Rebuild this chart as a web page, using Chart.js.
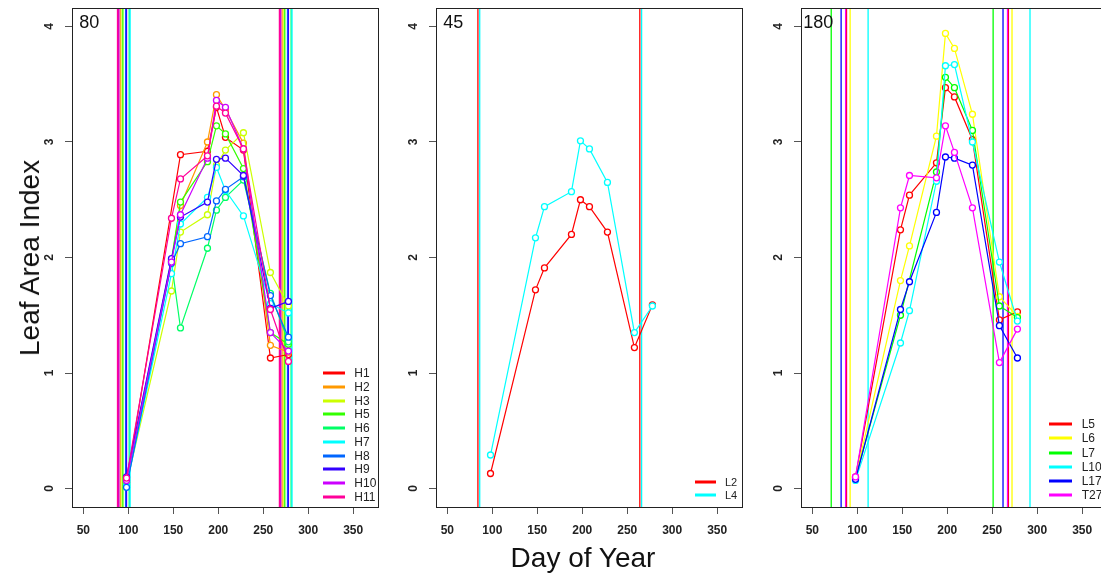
<!DOCTYPE html>
<html><head><meta charset="utf-8">
<script src="https://cdn.jsdelivr.net/npm/chart.js@4.4.1/dist/chart.umd.min.js"></script>
<style>
html,body{margin:0;padding:0;background:#fff;width:1101px;height:580px;overflow:hidden;font-family:"Liberation Sans",Arial,sans-serif;}
#wrap{position:relative;width:1101px;height:580px;overflow:hidden;}
canvas.cv{position:absolute;top:0;}
.plab{position:absolute;font-size:18px;color:#111;transform:translate(-50%,-50%);white-space:nowrap;}
.ytitle{position:absolute;left:30px;top:258px;transform:translate(-50%,-50%) rotate(-90deg);font-size:28px;white-space:nowrap;color:#111;}
.xtitle{position:absolute;left:583px;top:558px;transform:translate(-50%,-50%);font-size:28px;white-space:nowrap;color:#111;}
.lgline{position:absolute;height:3px;transform:translateY(-50%);}
.lgtxt{position:absolute;transform:translateY(-50%);color:#222;white-space:nowrap;}
</style>
</head><body>
<div id="wrap">
  <canvas id="c0" class="cv" width="372" height="580" style="left:12px"></canvas>
  <canvas id="c1" class="cv" width="372" height="580" style="left:376px"></canvas>
  <canvas id="c2" class="cv" width="372" height="580" style="left:741px"></canvas>
  <div class="ytitle">Leaf Area Index</div>
  <div class="xtitle">Day of Year</div>
</div>
<script>
// ---------- data ----------
const days = [98, 148, 158, 188, 198, 208, 228, 258, 278];
const xTicks = [50, 100, 150, 200, 250, 300, 350];
const yTicks = [0, 1, 2, 3, 4];
const panelLabels = ['80', '45', '180'];

// panel 1
const hNames = ['H1', 'H2', 'H3', 'H5', 'H6', 'H7', 'H8', 'H9', 'H10', 'H11'];
const hColors = ['#FF0000', '#FF9900', '#CCFF00', '#33FF00', '#00FF66', '#00FFFF', '#0066FF', '#3300FF', '#CC00FF', '#FF0099'];
const H1  = [0.05, null, 2.89, 2.92, 3.30, 3.04, 2.93, 1.13, 1.16];
const H2  = [0.06, 1.97, 2.45, 3.00, 3.41, 3.28, 2.99, 1.24, 1.18];
const H3  = [0.04, 1.71, 2.22, 2.37, 2.80, 2.93, 3.08, 1.87, 1.58];
const H5  = [0.08, 1.98, 2.48, 2.83, 3.14, 3.07, 2.77, 1.35, 1.25];
const H6  = [0.03, 1.96, 1.39, 2.08, 2.41, 2.52, 2.67, 1.69, 1.27];
const H7  = [0.02, 1.86, 2.29, 2.52, 2.78, 2.58, 2.36, 1.60, 1.52];
const H8  = [0.01, 1.95, 2.12, 2.18, 2.49, 2.59, 2.70, 1.67, 1.31];
const H9  = [0.10, 1.99, 2.35, 2.48, 2.85, 2.86, 2.71, 1.56, 1.62];
const H10 = [0.07, 1.96, 2.37, 2.86, 3.36, 3.30, 2.94, 1.35, 1.19];
const H11 = [0.09, 2.34, 2.68, 2.88, 3.31, 3.25, 2.94, 1.55, 1.10];
const hPlant   = [89, 91, 93, 94, 101, 102, 97, 98, 89.5, 88];
const hHarvest = [269, 271, 273, 274, 281, 282, 277, 278, 269.5, 268];

// panel 2
const lNames2 = ['L2', 'L4'];
const lColors2 = ['#FF0000', '#00FFFF'];
const L2 = [0.13, 1.72, 1.91, 2.20, 2.50, 2.44, 2.22, 1.22, 1.59];
const L4 = [0.29, 2.17, 2.44, 2.57, 3.01, 2.94, 2.65, 1.35, 1.58];
const lPlant2   = [84, 86];
const lHarvest2 = [264, 266];

// panel 3
const lNames3 = ['L5', 'L6', 'L7', 'L10', 'L17', 'T27'];
const lColors3 = ['#FF0000', '#FFFF00', '#00FF00', '#00FFFF', '#0000FF', '#FF00FF'];
const L5  = [0.10, 2.24, 2.54, 2.82, 3.47, 3.39, 3.02, 1.46, 1.53];
const L6  = [0.09, 1.80, 2.10, 3.05, 3.94, 3.81, 3.24, 1.66, 1.49];
const L7  = [0.09, 1.50, null, 2.74, 3.56, 3.47, 3.10, 1.58, 1.48];
const L10 = [0.07, 1.26, 1.54, 2.66, 3.66, 3.67, 3.00, 1.96, 1.45];
const L17 = [0.08, 1.55, 1.79, 2.39, 2.87, 2.86, 2.80, 1.41, 1.13];
const T27 = [0.10, 2.43, 2.71, 2.69, 3.14, 2.91, 2.43, 1.09, 1.38];
const lPlant3   = [88, 92, 71, 112, 82, 87];
const lHarvest3 = [268, 272, 251, 292, 262, 267];

const panels = [
  {names: hNames, colors: hColors, values: [H1, H2, H3, H5, H6, H7, H8, H9, H10, H11], plant: hPlant, harvest: hHarvest,
   lg: {y0: 373.3, dy: 13.7, x1: 323.3, x2: 345, tx: 354.3, fs: 12}},
  {names: lNames2, colors: lColors2, values: [L2, L4], plant: lPlant2, harvest: lHarvest2,
   lg: {y0: 482.3, dy: 12.4, x1: 695, x2: 716, tx: 725, fs: 11}},
  {names: lNames3, colors: lColors3, values: [L5, L6, L7, L10, L17, T27], plant: lPlant3, harvest: lHarvest3,
   lg: {y0: 424.3, dy: 14.1, x1: 1049.3, x2: 1072, tx: 1081.7, fs: 12}}
];

const X_MIN = 37.4, X_MAX = 377.6, Y_MIN = -0.16, Y_MAX = 4.16;
const canvasLeft = [12, 376, 741];

// ---------- plugins ----------
const vlinePlugin = {
  id: 'vlines',
  beforeDatasetsDraw(chart, args, opts) {
    const ctx = chart.ctx, xs = chart.scales.x, a = chart.chartArea;
    ctx.save();
    ctx.beginPath(); ctx.rect(a.left, a.top, a.right - a.left, a.bottom - a.top); ctx.clip();
    ctx.lineWidth = 1.3;
    opts.lines.forEach(l => {
      const px = xs.getPixelForValue(l.v);
      ctx.strokeStyle = l.c;
      ctx.beginPath(); ctx.moveTo(px, a.top); ctx.lineTo(px, a.bottom); ctx.stroke();
    });
    ctx.restore();
  }
};
const framePlugin = {
  id: 'frame',
  afterDraw(chart) {
    const ctx = chart.ctx, a = chart.chartArea, ys = chart.scales.y;
    ctx.save();
    ctx.strokeStyle = '#222'; ctx.lineWidth = 1;
    ctx.strokeRect(Math.round(a.left) + 0.5, Math.round(a.top) + 0.5, Math.round(a.right - a.left), Math.round(a.bottom - a.top));
    ctx.fillStyle = '#222';
    ctx.font = 'bold 12px "Liberation Sans", Arial, sans-serif';
    ctx.textAlign = 'center'; ctx.textBaseline = 'middle';
    yTicks.forEach(v => {
      const py = ys.getPixelForValue(v);
      ctx.save(); ctx.translate(a.left - 22, py); ctx.rotate(-Math.PI / 2);
      ctx.fillText(String(v), 0, 0); ctx.restore();
    });
    ctx.restore();
  }
};

// ---------- build ----------
const wrap = document.getElementById('wrap');
panels.forEach((p, pi) => {
  const datasets = p.values.map((vals, si) => ({
    label: p.names[si],
    data: days.map((d, k) => ({x: d, y: vals[k]})),
    borderColor: p.colors[si],
    backgroundColor: p.colors[si],
    borderWidth: 1.2,
    pointRadius: 3,
    pointBorderWidth: 1.3,
    pointBackgroundColor: '#ffffff',
    pointBorderColor: p.colors[si],
    spanGaps: true,
    tension: 0,
    order: p.values.length - si
  }));
  const lines = [];
  p.plant.forEach((v, i) => lines.push({v: v, c: p.colors[i]}));
  p.harvest.forEach((v, i) => lines.push({v: v, c: p.colors[i]}));

  new Chart(document.getElementById('c' + pi), {
    type: 'line',
    data: {datasets},
    options: {
      responsive: false, animation: false, devicePixelRatio: 1,
      layout: {padding: {left: 0, right: 6, top: 8, bottom: 0}},
      plugins: {legend: {display: false}, tooltip: {enabled: false}, title: {display: false}, vlines: {lines}},
      scales: {
        x: {
          type: 'linear', min: X_MIN, max: X_MAX,
          afterBuildTicks: s => { s.ticks = xTicks.map(v => ({value: v})); },
          afterFit: s => { s.height = 73; },
          grid: {drawOnChartArea: false, drawTicks: true, tickLength: 7, color: '#555'},
          border: {display: true, color: '#555'},
          ticks: {autoSkip: false, maxRotation: 0, minRotation: 0, padding: 9, color: '#222',
                  font: {family: '"Liberation Sans", Arial, sans-serif', size: 12, weight: 'bold'}}
        },
        y: {
          type: 'linear', min: Y_MIN, max: Y_MAX,
          afterBuildTicks: s => { s.ticks = yTicks.map(v => ({value: v})); },
          afterFit: s => { s.width = 60; },
          grid: {drawOnChartArea: false, drawTicks: true, tickLength: 7, color: '#555'},
          border: {display: true, color: '#555'},
          ticks: {display: false}
        }
      }
    },
    plugins: [vlinePlugin, framePlugin]
  });

  // panel label
  const pl = document.createElement('div');
  pl.className = 'plab';
  pl.textContent = panelLabels[pi];
  pl.style.left = (canvasLeft[pi] + 77.3) + 'px';
  pl.style.top = '21.7px';
  wrap.appendChild(pl);

  // legend
  p.names.forEach((n, i) => {
    const y = p.lg.y0 + i * p.lg.dy;
    const ln = document.createElement('div');
    ln.className = 'lgline';
    ln.style.left = p.lg.x1 + 'px'; ln.style.width = (p.lg.x2 - p.lg.x1) + 'px';
    ln.style.top = y + 'px'; ln.style.background = p.colors[i];
    wrap.appendChild(ln);
    const tx = document.createElement('div');
    tx.className = 'lgtxt';
    tx.style.left = p.lg.tx + 'px'; tx.style.top = y + 'px';
    tx.style.fontSize = p.lg.fs + 'px';
    tx.textContent = n;
    wrap.appendChild(tx);
  });
});
</script>
</body></html>
